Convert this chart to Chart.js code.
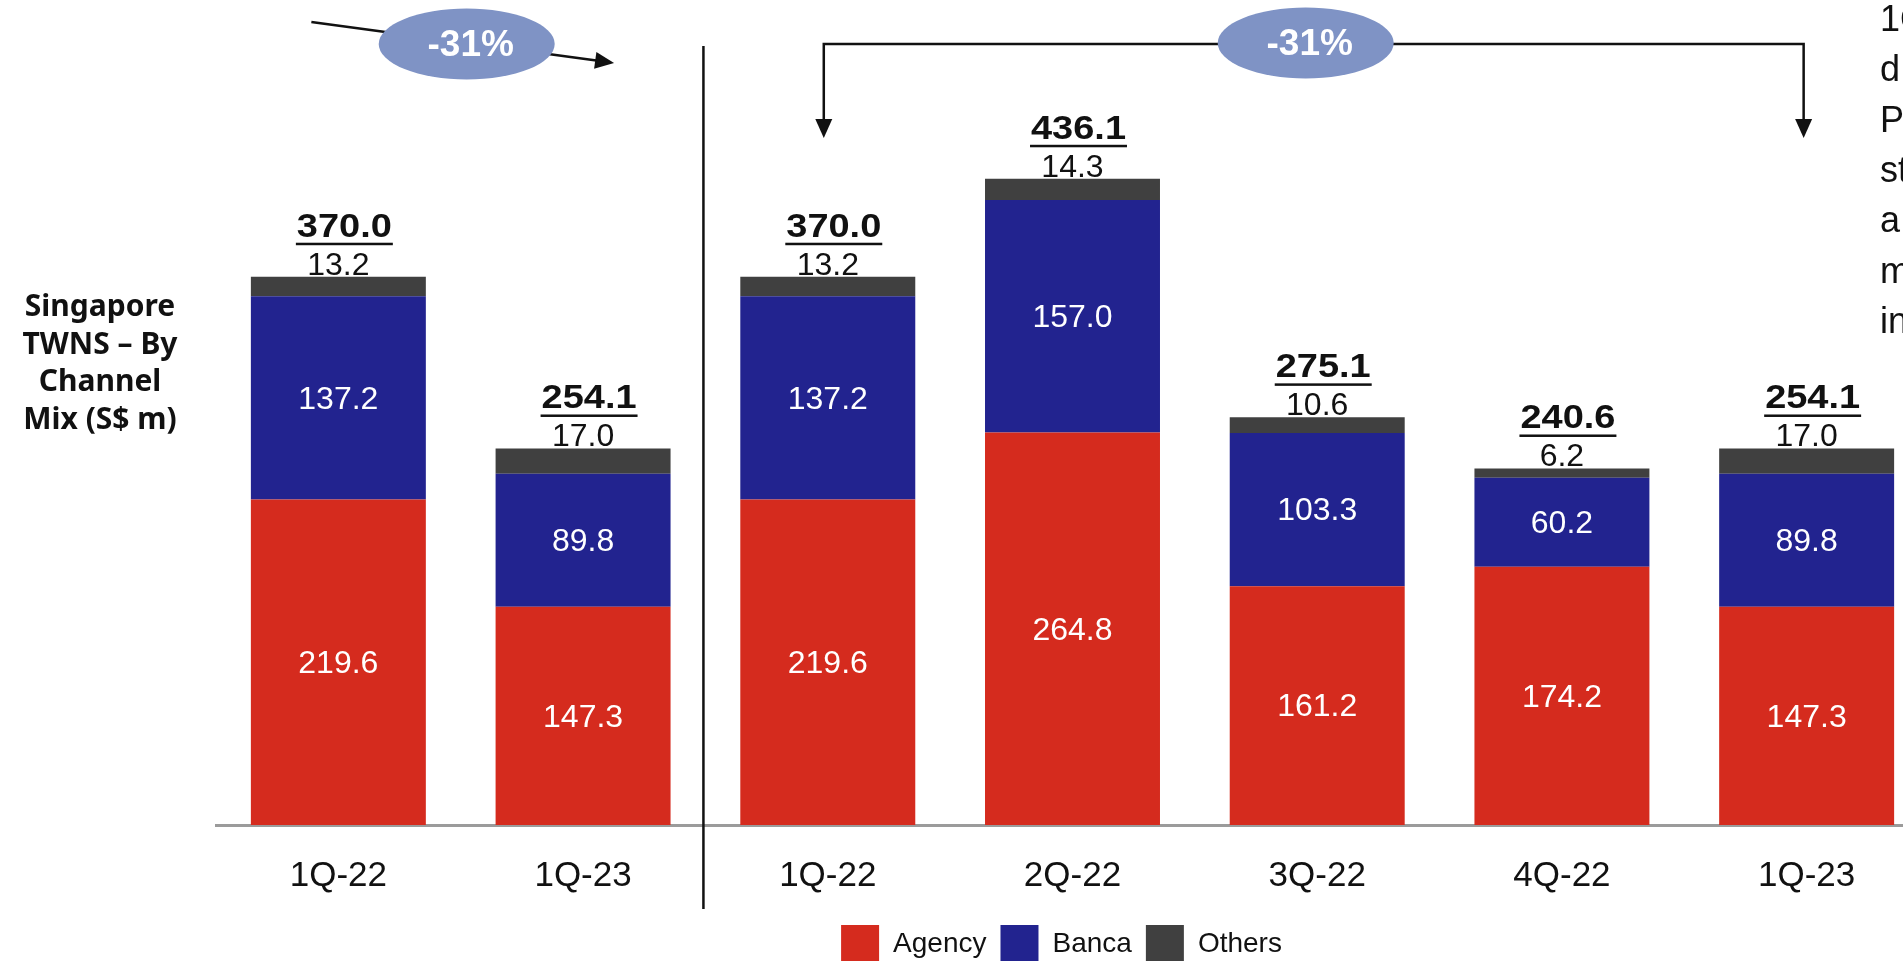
<!DOCTYPE html>
<html>
<head>
<meta charset="utf-8">
<script src="https://cdn.jsdelivr.net/npm/chart.js@4.4.1/dist/chart.umd.min.js"></script>
<style>
  html, body { margin: 0; padding: 0; overflow: hidden; background: #ffffff; }
  #wrap { width: 1950px; height: 973px; }
</style>
</head>
<body>
<div id="wrap"><canvas id="mix" width="1950" height="973"></canvas></div>
<script>
// Singapore TWNS by channel (S$ m)
const categories = ['1Q-22', '1Q-23', '1Q-22', '2Q-22', '3Q-22', '4Q-22', '1Q-23'];
const agency = [219.6, 147.3, 219.6, 264.8, 161.2, 174.2, 147.3];
const banca = [137.2, 89.8, 137.2, 157.0, 103.3, 60.2, 89.8];
const others = [13.2, 17.0, 13.2, 14.3, 10.6, 6.2, 17.0];
const seriesNames = ['Agency', 'Banca', 'Others'];
const changeLabels = ['-31%', '-31%'];
const axisTitle = ['Singapore', 'TWNS \u2013 By', 'Channel', 'Mix (S$ m)'];
const sideNote = ['1Q', 'd', 'P', 'st', 'a', 'm', 'in'];

const totals = categories.map((_, i) => agency[i] + banca[i] + others[i]);

const RED = '#D52B1E';
const BLUE = '#22238F';
const GREY = '#404040';
const BUBBLE = '#7F93C5';
const INK = '#111111';

function arrowHead(ctx, tipX, tipY, angle, len, half) {
  ctx.save();
  ctx.translate(tipX, tipY);
  ctx.rotate(angle);
  ctx.beginPath();
  ctx.moveTo(0, 0);
  ctx.lineTo(-len, -half);
  ctx.lineTo(-len, half);
  ctx.closePath();
  ctx.fill();
  ctx.restore();
}

function bubble(ctx, cx, cy, text) {
  ctx.save();
  ctx.fillStyle = BUBBLE;
  ctx.beginPath();
  ctx.ellipse(cx, cy, 88, 35.5, 0, 0, Math.PI * 2);
  ctx.fill();
  ctx.fillStyle = '#ffffff';
  ctx.font = 'bold 37px "Liberation Sans", Arial, sans-serif';
  ctx.textAlign = 'center';
  ctx.textBaseline = 'middle';
  ctx.fillText(text, cx + 4, cy + 2);
  ctx.restore();
}

// Value labels on and above the stacked bars
const barLabels = {
  id: 'barLabels',
  afterDatasetsDraw(chart) {
    const ctx = chart.ctx;
    ctx.save();
    ctx.textAlign = 'center';

    // segment values inside Agency and Banca
    ctx.fillStyle = '#ffffff';
    ctx.font = '32px "Liberation Sans", Arial, sans-serif';
    ctx.textBaseline = 'middle';
    [agency, banca].forEach((values, d) => {
      chart.getDatasetMeta(d).data.forEach((bar, i) => {
        const p = bar.getProps(['x', 'y', 'base'], true);
        ctx.fillText(values[i].toFixed(1), p.x, (p.y + p.base) / 2 + 2);
      });
    });

    // Others value and underlined total above each bar
    const top = chart.getDatasetMeta(2).data;
    top.forEach((bar, i) => {
      const p = bar.getProps(['x', 'y'], true);
      ctx.fillStyle = INK;
      ctx.textBaseline = 'alphabetic';
      ctx.font = '32px "Liberation Sans", Arial, sans-serif';
      ctx.fillText(others[i].toFixed(1), p.x, p.y - 2);

      // totals use a wide bold face, stretched horizontally
      ctx.font = 'bold 33px "Liberation Sans", Arial, sans-serif';
      const t = totals[i].toFixed(1);
      const stretch = 1.15;
      const w = ctx.measureText(t).width * stretch;
      const base = p.y - 40;
      const cx = p.x + 6;
      ctx.save();
      ctx.translate(cx, base);
      ctx.scale(stretch, 1);
      ctx.fillText(t, 0, 0);
      ctx.restore();
      ctx.fillRect(cx - w / 2 - 1, base + 6, w + 2, 2.5);
    });
    ctx.restore();
  }
};

// Divider, change callouts, side title and note
const decorations = {
  id: 'decorations',
  afterDraw(chart) {
    const ctx = chart.ctx;
    const xs = chart.scales.x;
    const p = i => xs.getPixelForValue(i);
    ctx.save();
    ctx.strokeStyle = INK;
    ctx.fillStyle = INK;

    // divider between the year-on-year pair and the quarterly run
    const divX = (p(1) + p(2)) / 2 - 2;
    ctx.lineWidth = 2.5;
    ctx.beginPath();
    ctx.moveTo(divX, 46);
    ctx.lineTo(divX, 909);
    ctx.stroke();

    // year-on-year arrow
    const ax0 = p(0) - 27, ay0 = 22, ax1 = p(1) + 31, ay1 = 63;
    const ang = Math.atan2(ay1 - ay0, ax1 - ax0);
    ctx.lineWidth = 2.5;
    ctx.beginPath();
    ctx.moveTo(ax0, ay0);
    ctx.lineTo(ax1 - 16 * Math.cos(ang), ay1 - 16 * Math.sin(ang));
    ctx.stroke();
    arrowHead(ctx, ax1, ay1, ang, 19, 8.5);
    bubble(ctx, (p(0) + p(1)) / 2 + 6, 44, changeLabels[0]);

    // bracket across the quarterly run
    const bL = p(2) - 4, bR = p(6) - 3, bY = 44, tipY = 138;
    ctx.lineWidth = 2.5;
    ctx.beginPath();
    ctx.moveTo(bL, tipY - 17);
    ctx.lineTo(bL, bY);
    ctx.lineTo(bR, bY);
    ctx.lineTo(bR, tipY - 17);
    ctx.stroke();
    arrowHead(ctx, bL, tipY, Math.PI / 2, 19, 8.5);
    arrowHead(ctx, bR, tipY, Math.PI / 2, 19, 8.5);
    bubble(ctx, (bL + bR) / 2 - 8, 43, changeLabels[1]);

    // side title
    ctx.fillStyle = INK;
    ctx.font = 'bold 30px "Noto Sans", "Open Sans", sans-serif';
    ctx.textAlign = 'center';
    ctx.textBaseline = 'alphabetic';
    axisTitle.forEach((line, i) => ctx.fillText(line, 100, 316 + i * 37.6));

    // commentary running off the right edge
    ctx.font = '36px "Liberation Sans", Arial, sans-serif';
    ctx.textAlign = 'left';
    sideNote.forEach((line, i) => ctx.fillText(line, 1880, 31 + i * 50.3));

    ctx.restore();
  }
};

// nudge the legend row slightly left of the plot centre
const legendShift = {
  id: 'legendShift',
  afterLayout(chart) {
    if (chart.legend) {
      chart.legend.left -= 11;
      chart.legend.right -= 11;
    }
  }
};

new Chart(document.getElementById('mix'), {
  type: 'bar',
  data: {
    labels: categories,
    datasets: [
      { label: seriesNames[0], data: agency, backgroundColor: RED, borderWidth: 0 },
      { label: seriesNames[1], data: banca, backgroundColor: BLUE, borderWidth: 0 },
      { label: seriesNames[2], data: others, backgroundColor: GREY, borderWidth: 0 }
    ]
  },
  options: {
    responsive: false,
    animation: false,
    events: [],
    layout: { padding: { left: 216, right: 21, top: 10, bottom: 0 } },
    datasets: { bar: { categoryPercentage: 1.0, barPercentage: 0.715 } },
    scales: {
      x: {
        stacked: true,
        grid: { display: false, drawTicks: false },
        border: { display: true, color: '#9b9b9b', width: 3 },
        ticks: {
          padding: 30,
          maxRotation: 0,
          autoSkip: false,
          color: INK,
          font: { family: '"Liberation Sans", Arial, sans-serif', size: 35 }
        },
        afterFit(scale) { scale.height = 86; }
      },
      y: {
        stacked: true,
        display: false,
        min: 0,
        max: 550
      }
    },
    plugins: {
      tooltip: { enabled: false },
      legend: {
        position: 'bottom',
        labels: {
          boxWidth: 38,
          boxHeight: 38,
          padding: 14,
          color: INK,
          font: { family: '"Liberation Sans", Arial, sans-serif', size: 28 }
        }
      }
    }
  },
  plugins: [barLabels, decorations, legendShift]
});
</script>
</body>
</html>
